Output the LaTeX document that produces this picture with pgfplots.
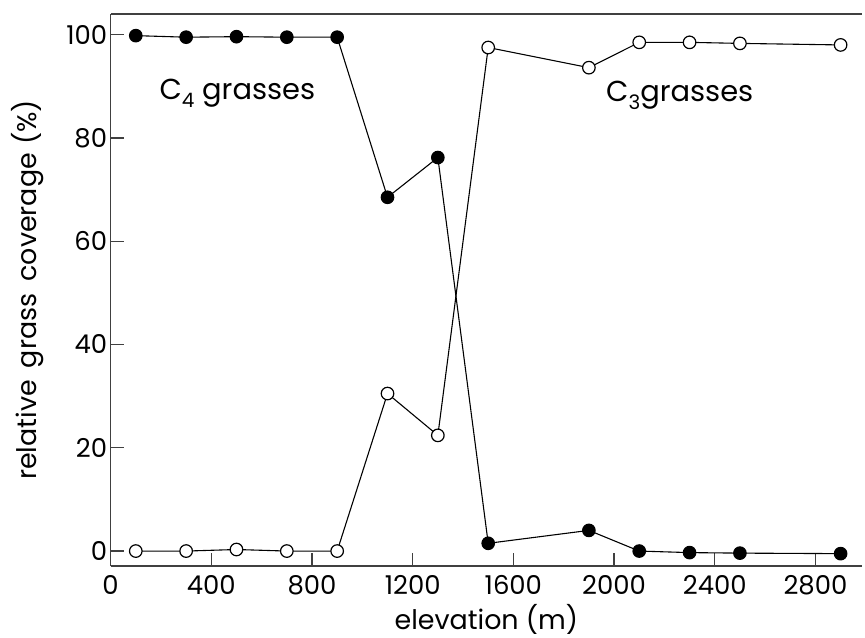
\documentclass[border=0pt]{standalone}
\usepackage{pgfplots}
\pgfplotsset{compat=1.18}
\usepackage{fontspec}
\setmainfont{Poppins}
\newcommand{\sub}[1]{\raisebox{-0.28em}{\fontsize{20}{22}\selectfont #1}}
\begin{document}
\begin{tikzpicture}
\begin{axis}[
  scale only axis,
  width=754pt, height=554pt,
  xmin=0, xmax=2985, ymin=-2.9, ymax=104,
  axis x line=bottom, axis y line=left,
  axis line style={-, line width=1.6pt, black!75},
  tick align=inside,
  major tick length=13pt,
  tick style={line width=1.3pt, black!75},
  xtick={0,400,...,2800},
  ytick={0,20,...,100},
  /pgf/number format/assume math mode=true,
  /pgf/number format/1000 sep={},
  ticklabel style={font=\fontsize{26}{30}\selectfont},
  xticklabel style={yshift=-6pt},
  label style={font=\fontsize{27}{30}\selectfont},
  xlabel={elevation (m)},
  ylabel={relative\hspace{0.45em}grass\hspace{0.45em}coverage\hspace{0.3em}(\%)},
  xlabel style={yshift=-2pt},
  ylabel style={yshift=16pt},
  clip=false,
]
\addplot[black, line width=1.1pt, mark=*, mark size=6.3pt, mark options={fill=black}]
 coordinates {(100,99.8)(300,99.5)(500,99.6)(700,99.5)(900,99.5)(1100,68.5)(1300,76.2)(1500,1.5)(1900,4)(2100,0)(2300,-0.3)(2500,-0.4)(2900,-0.5)};
\addplot[black, line width=1.1pt, mark=*, mark size=6.3pt, mark options={fill=white, line width=1.2pt}]
 coordinates {(100,0)(300,0)(500,0.3)(700,0)(900,0)(1100,30.5)(1300,22.4)(1500,97.5)(1900,93.6)(2100,98.5)(2300,98.5)(2500,98.3)(2900,98)};
\draw[line width=1.6pt, black!75] (rel axis cs:0,1) -- (rel axis cs:1,1);
\node[anchor=base west, font=\fontsize{29}{32}\selectfont, inner sep=0pt] at (axis cs:194,87.5) {C\sub{4} grasses};
\node[anchor=base west, font=\fontsize{29}{32}\selectfont, inner sep=0pt] at (axis cs:1968,87) {C\sub{3}grasses};
\coordinate (O) at (rel axis cs:0,0);
\end{axis}
\pgfresetboundingbox
\path (O) ++(-111pt,-72pt) rectangle ++(868pt,640pt);
\end{tikzpicture}
\end{document}
